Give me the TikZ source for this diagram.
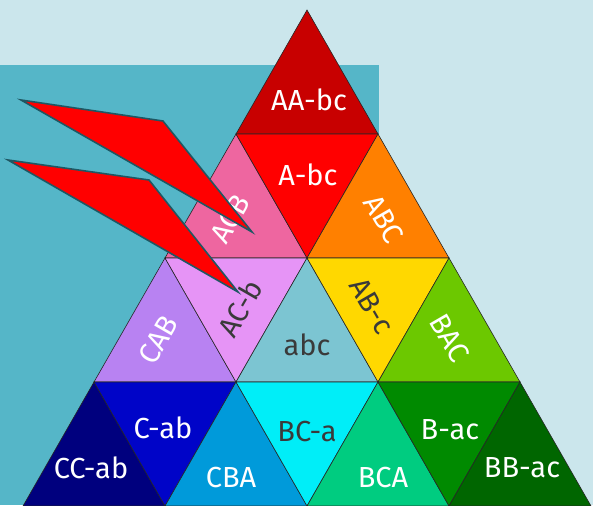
\documentclass[tikz,border=0pt]{standalone}
\usepackage{fontspec}
\setmainfont{Fira Sans}
\usepackage{xcolor}
\usetikzlibrary{calc}
\definecolor{bgLight}{HTML}{CBE6EC}
\definecolor{bgTeal}{HTML}{55B6C8}
\definecolor{abcTeal}{HTML}{7CC5D2}
\definecolor{boltEdge}{HTML}{1F5763}
\definecolor{txtDark}{HTML}{3A3A3A}
\definecolor{cAAbc}{HTML}{C80000}
\definecolor{cAbc}{HTML}{FF0000}
\definecolor{cACB}{HTML}{EE66A0}
\definecolor{cABC}{HTML}{FF8000}
\definecolor{cCAB}{HTML}{B882F2}
\definecolor{cACb}{HTML}{E694F6}
\definecolor{cABc}{HTML}{FFD800}
\definecolor{cBAC}{HTML}{6CC800}
\definecolor{cCCab}{HTML}{00007E}
\definecolor{cCab}{HTML}{0004C8}
\definecolor{cCBA}{HTML}{009ADA}
\definecolor{cBCa}{HTML}{00EEF8}
\definecolor{cBCA}{HTML}{00CC80}
\definecolor{cBac}{HTML}{008A00}
\definecolor{cBBac}{HTML}{006600}
\newcommand{\tri}[4]{\filldraw[cell,fill=#1] (#2) -- (#3) -- (#4) -- cycle;}

\begin{document}
\begin{tikzpicture}[x=1pt, y=-1pt,
  cell/.style={draw=black!85, line width=0.6pt},
  lbl/.style={font=\fontsize{29}{30}\selectfont, text=white, inner sep=0pt},
  dk/.style={text=txtDark},
  bolt/.style={fill=red, draw=boltEdge, line width=1.6pt}]
  \useasboundingbox (0,0) rectangle (593,505);
  \fill[bgLight] (0,0) rectangle (593,505);
  \fill[bgTeal] (0,65) rectangle (379,505);
  \foreach \r in {0,...,4}{
    \foreach \k in {0,...,\r}{
      \coordinate (p-\r-\k) at ({307+71*(2*\k-\r)},{10+124*\r});
    }
  }
  \tri{cAAbc}{p-0-0}{p-1-0}{p-1-1}
  \tri{cACB}{p-1-0}{p-2-0}{p-2-1}
  \tri{cAbc}{p-1-0}{p-1-1}{p-2-1}
  \tri{cABC}{p-1-1}{p-2-1}{p-2-2}
  \tri{cCAB}{p-2-0}{p-3-0}{p-3-1}
  \tri{cACb}{p-2-0}{p-2-1}{p-3-1}
  \tri{abcTeal}{p-2-1}{p-3-1}{p-3-2}
  \tri{cABc}{p-2-1}{p-2-2}{p-3-2}
  \tri{cBAC}{p-2-2}{p-3-2}{p-3-3}
  \tri{cCCab}{p-3-0}{p-4-0}{p-4-1}
  \tri{cCab}{p-3-0}{p-3-1}{p-4-1}
  \tri{cCBA}{p-3-1}{p-4-1}{p-4-2}
  \tri{cBCa}{p-3-1}{p-3-2}{p-4-2}
  \tri{cBCA}{p-3-2}{p-4-2}{p-4-3}
  \tri{cBac}{p-3-2}{p-3-3}{p-4-3}
  \tri{cBBac}{p-3-3}{p-4-3}{p-4-4}

  \node[lbl] (aabc) at (309,100) {AA-bc};
  \node[lbl] (abc1) at (308,175) {A-bc};
  \node[lbl, rotate=60] (acb) at (230,219) {ACB};
  \node[lbl, rotate=-60] (abcu) at (384,219) {ABC};
  \node[lbl, rotate=60] (cab) at (158,340) {CAB};
  \node[lbl, dk, rotate=60] (acb2) at (240,308) {AC-b};
  \node[lbl, dk] (abc) at (307,345) {abc};
  \node[lbl, dk, rotate=-60] (abc2) at (372,306) {AB-c};
  \node[lbl, rotate=-60] (bac) at (450,338) {BAC};
  \node[lbl] (ccab) at (91,468) {CC-ab};
  \node[lbl] (cab2) at (163,428) {C-ab};
  \node[lbl] (cba) at (231,478) {CBA};
  \node[lbl, dk] (bca2) at (307,432) {BC-a};
  \node[lbl] (bca) at (383,478) {BCA};
  \node[lbl] (bac2) at (450,430) {B-ac};
  \node[lbl] (bbac) at (522,468) {BB-ac};

  \filldraw[bolt] (21,100) -- (163,121) -- (252,232) -- cycle;
  \filldraw[bolt] (8,160) -- (149,180) -- (238,292) -- cycle;
\end{tikzpicture}
\end{document}
